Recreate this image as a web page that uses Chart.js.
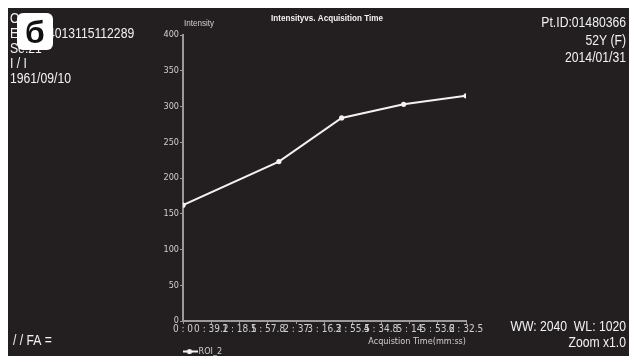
<!DOCTYPE html>
<html>
<head>
<meta charset="utf-8">
<script src="https://cdn.jsdelivr.net/npm/chart.js@4.4.1/dist/chart.umd.min.js"></script>
<style>
  html, body { margin: 0; padding: 0; background: #ffffff; }
  #wrap { width: 629px; height: 356px; }
</style>
</head>
<body>
<div id="wrap"><canvas id="c" width="629" height="356"></canvas></div>
<script>
// Acquisition times (seconds) and ROI intensity readings
const seriesName = 'ROI_2';
const timeSec = [0, 133, 220, 306, 392.5];
const intensity = [162, 223, 284, 303, 315];

// x-axis tick positions (seconds) and their mm:ss captions
const tickSeconds = [0, 39.25, 78.5, 117.75, 157, 196.25, 235.5, 274.75, 314, 353.25, 392.5];
const tickLabels = ['0 : 0', '0 : 39.2', '1 : 18.5', '1 : 57.8', '2 : 37', '3 : 16.2', '3 : 55.5', '4 : 34.8', '5 : 14', '5 : 53.2', '6 : 32.5'];

// y-axis range and step
const yMin = 0, yMax = 400, yStep = 50;

// Header / footer annotations of the viewer
const leftInfo = ['Os:', 'Ex:2014013115112289', 'Se:21', 'I / I', '1961/09/10'];
const rightInfo = ['Pt.ID:01480366', '52Y (F)', '2014/01/31'];
const footLeft = '/ / FA =';
const footRight = ['WW: 2040  WL: 1020', 'Zoom x1.0'];
const chartTitle = 'Intensityvs. Acquisition Time';
const yTitle = 'Intensity';
const xTitle = 'Acquistion Time(mm:ss)';
const badge = 'б';

const NARROW = '"DejaVu Sans Condensed", "Liberation Sans Narrow", sans-serif';
const SANS = '"Liberation Sans", Arial, sans-serif';
const BG = '#231f20';
const AXIS = '#9a9a9a';
const TICKTXT = '#cfcfcf';
const INK = '#f2f2f2';

// legend swatch: short line with a dot
const legendIcon = document.createElement('canvas');
legendIcon.width = 16; legendIcon.height = 7;
(function () {
  const g = legendIcon.getContext('2d');
  g.strokeStyle = INK; g.lineWidth = 2;
  g.beginPath(); g.moveTo(0, 3.5); g.lineTo(16, 3.5); g.stroke();
  g.fillStyle = INK; g.beginPath(); g.arc(8, 3.5, 2.6, 0, Math.PI * 2); g.fill();
})();

// text squeezed horizontally to mimic a condensed face
function narrowText(ctx, text, x, y, align, sx) {
  ctx.save();
  ctx.translate(x, y);
  ctx.scale(sx, 1);
  ctx.textAlign = align;
  ctx.fillText(text, 0, 0);
  ctx.restore();
}

const backdrop = {
  id: 'backdrop',
  beforeDraw(chart) {
    const ctx = chart.ctx;
    ctx.save();
    ctx.fillStyle = '#ffffff';
    ctx.fillRect(0, 0, chart.width, chart.height);
    ctx.fillStyle = BG;
    ctx.fillRect(8, 8, chart.width - 8, chart.height - 8);
    ctx.restore();
  }
};

const overlay = {
  id: 'overlay',
  afterDraw(chart) {
    const ctx = chart.ctx;
    const area = chart.chartArea;
    ctx.save();
    ctx.fillStyle = INK;
    ctx.textBaseline = 'middle';

    // patient / study block, top left
    ctx.font = '14px ' + SANS;
    const ly = [19, 34, 49, 64, 79];
    leftInfo.forEach((t, i) => narrowText(ctx, t, 10, ly[i], 'left', 0.87));

    // top right block
    const ry = [23, 41, 58];
    rightInfo.forEach((t, i) => narrowText(ctx, t, 626, ry[i], 'right', 0.87));

    // footer
    narrowText(ctx, footRight[0], 626, 327, 'right', 0.87);
    narrowText(ctx, footRight[1], 626, 343, 'right', 0.87);
    narrowText(ctx, footLeft, 13, 341, 'left', 0.87);

    // chart title and vertical-axis caption
    ctx.font = 'bold 9px ' + SANS;
    narrowText(ctx, chartTitle, 327, 19, 'center', 0.9);
    ctx.font = '9px ' + SANS;
    ctx.fillStyle = TICKTXT;
    narrowText(ctx, yTitle, area.left + 1, 24, 'left', 0.9);

    // figure badge
    ctx.fillStyle = '#ffffff';
    ctx.beginPath();
    ctx.roundRect(17, 13, 36, 37, 6);
    ctx.fill();
    ctx.fillStyle = '#111111';
    ctx.font = 'bold 32px ' + SANS;
    ctx.textAlign = 'center';
    ctx.textBaseline = 'alphabetic';
    ctx.fillText(badge, 35, 43);
    ctx.restore();
  }
};

new Chart(document.getElementById('c'), {
  type: 'line',
  data: {
    datasets: [{
      label: seriesName,
      data: timeSec.map((t, i) => ({ x: t, y: intensity[i] })),
      borderColor: INK,
      backgroundColor: INK,
      borderWidth: 2,
      pointRadius: 2.6,
      pointBackgroundColor: INK,
      pointBorderWidth: 0,
      tension: 0
    }]
  },
  options: {
    responsive: false,
    animation: false,
    devicePixelRatio: 1,
    layout: { padding: { top: 35, right: 163, left: 0, bottom: -10 } },
    plugins: {
      title: { display: false },
      tooltip: { enabled: false },
      legend: {
        position: 'bottom',
        align: 'start',
        fullSize: false,
        labels: {
          color: TICKTXT,
          font: { family: NARROW, size: 9 },
          padding: 2,
          usePointStyle: true,
          generateLabels(chart) {
            const items = Chart.defaults.plugins.legend.labels.generateLabels(chart);
            items.forEach(it => { it.pointStyle = legendIcon; it.fontColor = TICKTXT; });
            return items;
          }
        }
      }
    },
    scales: {
      x: {
        type: 'linear',
        min: tickSeconds[0],
        max: tickSeconds[tickSeconds.length - 1],
        afterBuildTicks(scale) {
          scale.ticks = tickSeconds.map(v => ({ value: v }));
        },
        afterFit(scale) { scale.height = 24; },
        ticks: {
          autoSkip: false,
          maxRotation: 0,
          minRotation: 0,
          padding: 0,
          color: TICKTXT,
          font: { family: NARROW, size: 10, lineHeight: 1 },
          callback: (v, i) => tickLabels[i]
        },
        grid: { drawOnChartArea: false, drawTicks: true, tickLength: 3, color: AXIS, tickColor: AXIS, tickWidth: 1 },
        border: { color: AXIS, width: 2 },
        title: {
          display: true,
          text: xTitle,
          align: 'end',
          color: TICKTXT,
          font: { family: NARROW, size: 9 },
          padding: { top: 0, bottom: -2.5 }
        }
      },
      y: {
        min: yMin,
        max: yMax,
        afterFit(scale) { scale.width = 183; },
        ticks: {
          stepSize: yStep,
          padding: 1,
          color: TICKTXT,
          font: { family: NARROW, size: 9 }
        },
        grid: { drawOnChartArea: false, drawTicks: true, tickLength: 3, color: AXIS, tickColor: AXIS, tickWidth: 1 },
        border: { color: AXIS, width: 2 }
      }
    }
  },
  plugins: [backdrop, overlay]
});
</script>
</body>
</html>
